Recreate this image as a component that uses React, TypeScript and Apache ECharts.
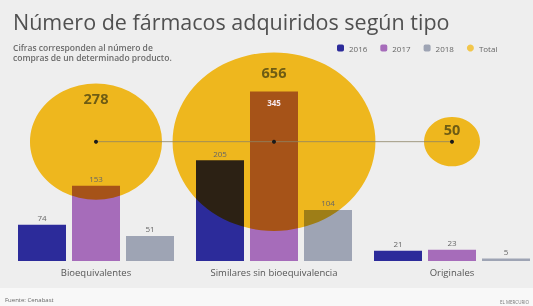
import React, { useEffect, useRef } from "react";
import * as echarts from "echarts";

const categories = ["Bioequivalentes", "Similares sin bioequivalencia", "Originales"];
const seriesNames = ["2016", "2017", "2018"];
const values2016 = [74, 205, 21];
const values2017 = [153, 345, 23];
const values2018 = [51, 104, 5];
const totals = [278, 656, 50];
const totalName = "Total";

const titleText = "Número de fármacos adquiridos según tipo";
const subtitleText = "Cifras corresponden al número de\ncompras de un determinado producto.";
const sourceText = "Fuente: Cenabast";
const creditText = "EL MERCURIO";

const COLORS = ["#2C2B9A", "#A66CBA", "#9EA4B4"];
const YELLOW = "#FFC420";
const BG = "#EEEEEE";
const FONT = "Open Sans";

const BUBBLE_K = 7.92;
const SQUASH = 0.88;
const LEVEL = 0.54;
const bubbleSize = (v: number) => [BUBBLE_K * Math.sqrt(v), BUBBLE_K * Math.sqrt(v) * SQUASH];

// layers are a little wider than the window so the last category band can extend past the edge
const LAYER_W = 545;
const grid = { left: 7, top: 40, right: 4, height: 221 };
const makeX = (showLabel: boolean) => ({
  type: "category",
  data: categories,
  axisLine: { show: false },
  axisTick: { show: false },
  splitLine: { show: false },
  axisLabel: showLabel
    ? { show: true, fontSize: 9.5, color: "#555", margin: 6, fontFamily: FONT }
    : { show: false },
});
const yAxes = [
  { type: "value", min: 0, max: 450, show: false },
  { type: "value", min: 0, max: 1, show: false },
];
const barValues = [values2016, values2017, values2018];

function useChart(build: () => any) {
  const ref = useRef<HTMLDivElement>(null);
  useEffect(() => {
    if (!ref.current) return;
    const chart = echarts.init(ref.current, undefined, { renderer: "svg" });
    chart.setOption(build());
    return () => chart.dispose();
  }, []);
  return ref;
}

const layerStyle: React.CSSProperties = {
  position: "absolute",
  left: 0,
  top: 0,
  width: LAYER_W,
  height: 306,
};

export default function App() {
  const bottomRef = useChart(() => ({
    animation: false,
    backgroundColor: BG,
    textStyle: { fontFamily: FONT },
    title: {
      text: titleText,
      left: 8,
      top: 5,
      itemGap: 11,
      textStyle: { fontFamily: FONT, fontSize: 21.5, fontWeight: "normal", color: "#505050" },
      subtext: subtitleText,
      subtextStyle: { fontFamily: FONT, fontSize: 8.5, fontWeight: 600, color: "#6a6a6a", lineHeight: 9.5 },
    },
    legend: {
      left: 332,
      top: 39,
      itemWidth: 7,
      itemHeight: 7,
      itemGap: 13,
      textStyle: { fontSize: 8, color: "#666", fontFamily: FONT },
      data: [
        ...seriesNames.map((n) => ({ name: n, icon: "roundRect" })),
        { name: totalName, icon: "circle", itemStyle: { color: "#F2BC22" } },
      ],
    },
    grid,
    xAxis: makeX(true),
    yAxis: yAxes,
    graphic: [
      { type: "rect", shape: { x: 0, y: 288, width: LAYER_W, height: 18 }, style: { fill: "#F8F8F8" }, silent: true },
      { type: "text", left: 5, top: 297, style: { text: sourceText, fontSize: 6, fill: "#666", fontFamily: FONT } },
      { type: "text", left: 500, top: 299, style: { text: creditText, fontSize: 4.5, fill: "#777", fontFamily: FONT } },
    ],
    series: [
      ...seriesNames.map((n, i) => ({
        name: n,
        type: "bar",
        barWidth: 48,
        barGap: "12.5%",
        data: barValues[i],
        itemStyle: { color: COLORS[i] },
      })),
      { name: totalName, type: "scatter", yAxisIndex: 1, data: [], itemStyle: { color: "#F2BC22" } },
    ],
  }));

  const middleRef = useChart(() => ({
    animation: false,
    grid,
    xAxis: makeX(false),
    yAxis: yAxes,
    series: [
      {
        name: totalName,
        type: "scatter",
        yAxisIndex: 1,
        data: totals.map((v, i) => [categories[i], LEVEL, v]),
        symbolSize: (val: number[]) => bubbleSize(val[2]),
        itemStyle: { color: YELLOW, opacity: 1 },
      },
    ],
  }));

  const topRef = useChart(() => ({
    animation: false,
    grid,
    xAxis: makeX(false),
    yAxis: yAxes,
    series: [
      ...seriesNames.map((n, i) => ({
        name: n,
        type: "bar",
        barWidth: 48,
        barGap: "12.5%",
        itemStyle: { color: "rgba(0,0,0,0)" },
        data: barValues[i].map((v, j) =>
          i === 1 && j === 1
            ? {
                value: v,
                label: { position: "insideTop", distance: 7, color: "#F6E8EE", fontWeight: "bold" },
              }
            : v
        ),
        label: { show: true, position: "top", distance: 3, fontSize: 8, color: "#666", fontFamily: FONT },
      })),
      {
        name: totalName,
        type: "line",
        yAxisIndex: 1,
        symbol: "circle",
        symbolSize: 4,
        itemStyle: { color: "#1a1a1a" },
        lineStyle: { color: "#8d8466", width: 0.8 },
        data: totals.map((v, i) => ({
          value: [categories[i], LEVEL, v],
          label: { offset: [0, -(bubbleSize(v)[1] / 2 - (12 + v * 0.012))] },
        })),
        label: {
          show: true,
          position: "inside",
          formatter: (p: any) => String(p.value[2]),
          fontSize: 14.5,
          fontWeight: "bold",
          color: "#6E5C14",
          fontFamily: FONT,
        },
      },
    ],
  }));

  return (
    <div style={{ position: "fixed", left: 0, top: 0, width: 533, height: 306, overflow: "hidden" }}>
      <div ref={bottomRef} style={layerStyle} />
      <div ref={middleRef} style={{ ...layerStyle, mixBlendMode: "multiply" }} />
      <div ref={topRef} style={layerStyle} />
    </div>
  );
}
